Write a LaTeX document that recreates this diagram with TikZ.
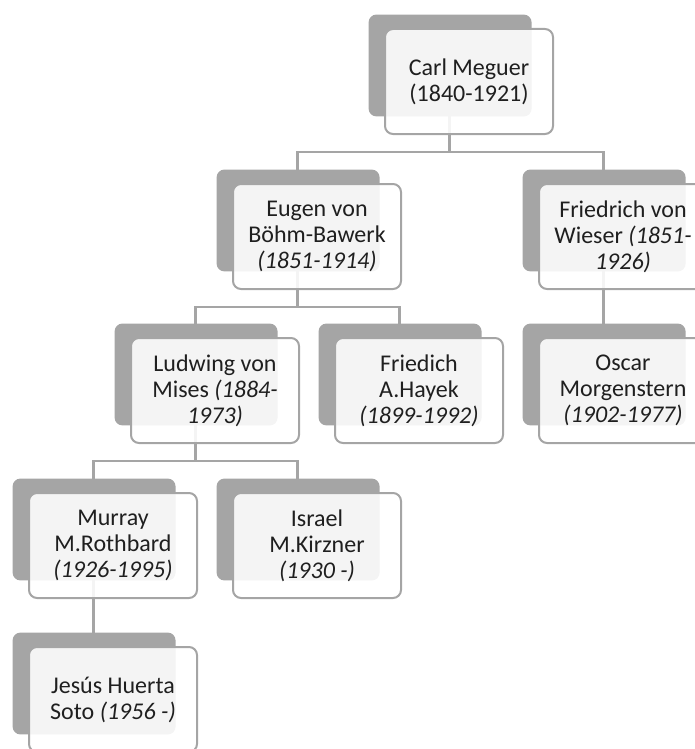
\documentclass[tikz,border=0pt]{standalone}
\usepackage{fontspec}
\setmainfont{Carlito}
\usetikzlibrary{shadows,backgrounds}
\definecolor{boxgray}{HTML}{A5A5A5}
\definecolor{txtgray}{HTML}{1F1F1F}

\begin{document}
\begin{tikzpicture}[x=1pt,y=-1pt,
    person/.style={draw=boxgray, line width=2pt, rounded corners=8pt,
      fill=white, fill opacity=0.88, text opacity=1,
      minimum width=168pt, minimum height=105pt, align=center, text=txtgray,
      font={\fontsize{24}{26}\selectfont},
      general shadow={fill=boxgray, draw=none, fill opacity=1, shadow scale=0.97,
        shadow xshift=-19.5pt, shadow yshift=16.5pt}},
    link/.style={draw=boxgray, line width=2.5pt}]
  \useasboundingbox (0,0) rectangle (694,749);

  % people, row by row
  \node[person] (carl) at (469,81.5) {Carl Meguer\\(1840-1921)};
  \node[person] (eugen) at (317,236.5) {Eugen von\\Böhm-Bawerk\\\textit{(1851-1914)}};
  \node[person] (wieser) at (623,236.5) {Friedrich von\\Wieser \textit{(1851-}\\\textit{1926)}};
  \node[person] (mises) at (215,390.5) {Ludwing von\\Mises \textit{(1884-}\\\textit{1973)}};
  \node[person] (hayek) at (419,390.5) {Friedich\\A.Hayek\\\textit{(1899-1992)}};
  \node[person] (morgenstern) at (623,390.5) {Oscar\\Morgenstern\\\textit{(1902-1977)}};
  \node[person] (rothbard) at (113,545.5) {Murray\\M.Rothbard\\\textit{(1926-1995)}};
  \node[person] (kirzner) at (317,545.5) {Israel\\M.Kirzner\\\textit{(1930 -)}};
  \node[person] (huerta) at (113,699.5) {Jesús Huerta\\Soto \textit{(1956 -)}};

  % connectors behind the boxes
  \begin{scope}[on background layer]
    \draw[link] ([xshift=-19.5pt]carl.center) -- ++(0,70.5) coordinate (j1);
    \draw[link] ([xshift=-19.5pt]eugen.center) |- (j1) -| ([xshift=-19.5pt]wieser.center);
    \draw[link] ([xshift=-19.5pt]eugen.center) -- ++(0,70.5) coordinate (j2);
    \draw[link] ([xshift=-19.5pt]mises.center) |- (j2) -| ([xshift=-19.5pt]hayek.center);
    \draw[link] ([xshift=-19.5pt]mises.center) -- ++(0,70.5) coordinate (j3);
    \draw[link] ([xshift=-19.5pt]rothbard.center) |- (j3) -| ([xshift=-19.5pt]kirzner.center);
    \draw[link] ([xshift=-19.5pt]wieser.center) -- ([xshift=-19.5pt]morgenstern.center);
    \draw[link] ([xshift=-19.5pt]rothbard.center) -- ([xshift=-19.5pt]huerta.center);
  \end{scope}
\end{tikzpicture}
\end{document}
